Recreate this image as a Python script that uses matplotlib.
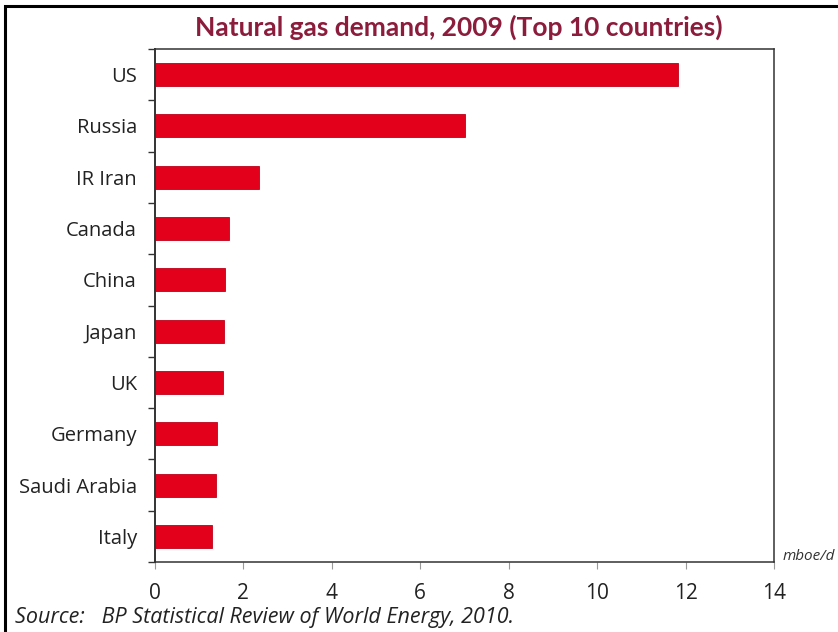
import numpy as np
import matplotlib.pyplot as plt
from matplotlib.patches import Rectangle

countries = ['US', 'Russia', 'IR Iran', 'Canada', 'China', 'Japan', 'UK',
             'Germany', 'Saudi Arabia', 'Italy']
demand = [11.83, 7.02, 2.36, 1.68, 1.59, 1.56, 1.54, 1.41, 1.38, 1.29]
xticks = [0, 2, 4, 6, 8, 10, 12, 14]

plt.rcParams['font.family'] = ['Open Sans', 'DejaVu Sans']

fig = plt.figure(figsize=(8.38, 6.32), dpi=100)
W, H = 838, 632
ax = fig.add_axes([155 / W, 1 - 562 / H, (774 - 155) / W, (562 - 49) / H])

y = np.arange(len(countries))
ax.barh(y, demand, height=0.45, color='#e2001a', edgecolor='#c00018', linewidth=0.6)

ax.set_xlim(0, 14)
ax.set_ylim(len(countries) - 0.5, -0.5)

# labels centred on bars, ticks between them
ax.set_yticks(y)
ax.set_yticklabels(countries, fontsize=14.5, color='#222222')
ax.set_yticks(np.arange(len(countries) + 1) - 0.5, minor=True)
ax.tick_params(axis='y', which='major', length=0, pad=13)
ax.tick_params(axis='y', which='minor', length=5, width=1, color='#333333')

ax.set_xticks(xticks)
ax.set_xticklabels([str(t) for t in xticks], fontsize=15, color='#222222')
ax.tick_params(axis='x', length=5, width=0.8, color='#999999', pad=10)

for side in ['top', 'right', 'bottom', 'left']:
    ax.spines[side].set_color('#333333')
    ax.spines[side].set_linewidth(1.1)
ax.spines['left'].set_linewidth(1.4)

fig.text(459 / W, 1 - 27 / H, 'Natural gas demand, 2009 (Top 10 countries)',
         ha='center', va='center', fontsize=19, fontweight='bold',
         color='#8c1c3c', family=['Lato', 'DejaVu Sans'])
fig.text(783 / W, 1 - 557 / H, 'mboe/d', ha='left', va='center',
         fontsize=11, style='italic', color='#333333')
fig.text(15 / W, 1 - 617 / H, 'Source:   BP Statistical Review of World Energy, 2010.',
         ha='left', va='center', fontsize=15.5, style='italic', color='#222222')

# frame around the whole graphic
fig.patches.append(Rectangle((5 / W, -0.1), 1.2, 1 - 6 / H + 0.1,
                             transform=fig.transFigure, fill=False,
                             edgecolor='black', linewidth=2.2))

fig.savefig('out.png', dpi=100)
